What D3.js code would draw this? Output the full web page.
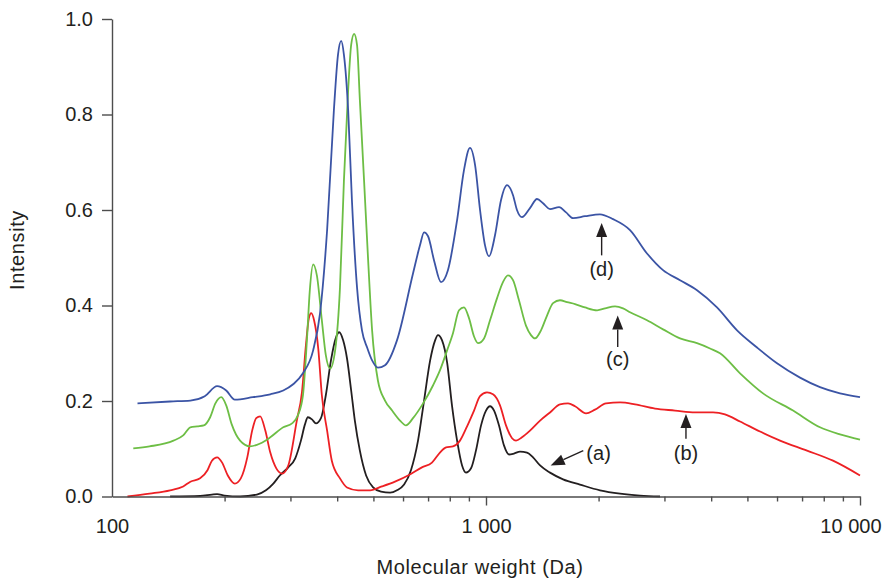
<!DOCTYPE html>
<html>
<head>
<meta charset="utf-8">
<script src="https://cdn.jsdelivr.net/npm/d3@7"></script>
<style>
  body { margin: 0; background: #fff; }
  text { font-family: "Liberation Sans", Arial, sans-serif; fill: #231f20; }
</style>
</head>
<body>
<div id="chart"></div>
<script>
//Chart size and plot box
var width = 883;
var height = 579;
var plotLeft = 112, plotRight = 860, plotTop = 19, plotBottom = 496.5;

//Series values: molecular weight (Da) and intensity
var blueMw = [117, 143, 162, 177, 191, 202, 213, 238, 265, 287, 305, 324, 345, 360, 376, 392, 402, 410, 417, 428, 438, 452, 466, 481, 496, 514, 537, 578, 638, 666, 683, 700, 726, 758, 791, 837, 873, 906, 935, 964, 994, 1019, 1057, 1097, 1138, 1181, 1210, 1248, 1311, 1369, 1421, 1483, 1568, 1637, 1709, 1839, 2017, 2186, 2427, 2695, 2974, 3302, 3666, 4146, 4691, 5305, 6000, 6912, 7816, 8841, 10000];
var blueInt = [0.195, 0.199, 0.201, 0.21, 0.231, 0.222, 0.203, 0.208, 0.214, 0.222, 0.235, 0.258, 0.306, 0.384, 0.558, 0.809, 0.925, 0.954, 0.925, 0.809, 0.621, 0.438, 0.348, 0.312, 0.285, 0.27, 0.275, 0.327, 0.467, 0.526, 0.553, 0.545, 0.495, 0.449, 0.474, 0.579, 0.683, 0.73, 0.694, 0.6, 0.526, 0.503, 0.547, 0.621, 0.652, 0.631, 0.6, 0.585, 0.604, 0.623, 0.614, 0.602, 0.606, 0.595, 0.583, 0.587, 0.591, 0.581, 0.558, 0.509, 0.474, 0.453, 0.432, 0.396, 0.348, 0.312, 0.279, 0.249, 0.229, 0.216, 0.208];

var greenMw = [114, 126, 146, 155, 162, 169, 176, 183, 189, 196, 202, 209, 220, 234, 249, 265, 287, 303, 314, 324, 332, 338, 345, 353, 364, 373, 383, 395, 407, 417, 428, 436, 444, 452, 460, 472, 484, 496, 514, 537, 561, 589, 611, 638, 679, 722, 753, 787, 816, 847, 873, 901, 929, 952, 988, 1025, 1070, 1110, 1145, 1181, 1225, 1279, 1319, 1352, 1403, 1456, 1511, 1577, 1647, 1730, 1839, 1982, 2082, 2213, 2325, 2427, 2695, 2974, 3302, 3666, 3972, 4224, 4778, 5504, 6623, 7816, 8841, 10000];
var greenInt = [0.101, 0.105, 0.117, 0.128, 0.145, 0.147, 0.149, 0.166, 0.195, 0.208, 0.191, 0.151, 0.117, 0.105, 0.111, 0.124, 0.145, 0.153, 0.17, 0.212, 0.327, 0.432, 0.486, 0.463, 0.369, 0.296, 0.268, 0.306, 0.438, 0.662, 0.851, 0.946, 0.969, 0.946, 0.83, 0.662, 0.495, 0.348, 0.243, 0.201, 0.18, 0.159, 0.149, 0.164, 0.195, 0.233, 0.264, 0.306, 0.342, 0.39, 0.396, 0.373, 0.335, 0.321, 0.331, 0.369, 0.415, 0.449, 0.463, 0.453, 0.411, 0.358, 0.338, 0.331, 0.348, 0.379, 0.405, 0.411, 0.407, 0.403, 0.396, 0.39, 0.394, 0.398, 0.394, 0.386, 0.369, 0.35, 0.331, 0.321, 0.31, 0.3, 0.258, 0.216, 0.18, 0.145, 0.13, 0.119];

var redMw = [110, 126, 143, 155, 162, 172, 180, 185, 191, 197, 204, 213, 221, 230, 237, 243, 249, 257, 265, 275, 285, 296, 312, 322, 330, 336, 341, 347, 356, 364, 376, 387, 407, 425, 455, 490, 527, 571, 626, 674, 717, 753, 782, 816, 852, 890, 929, 964, 1006, 1044, 1090, 1131, 1174, 1203, 1248, 1311, 1395, 1483, 1577, 1657, 1730, 1851, 1956, 2094, 2283, 2503, 2831, 3202, 3621, 4046, 4355, 4778, 5404, 6112, 7217, 8469, 10000];
var redInt = [0.0, 0.006, 0.013, 0.021, 0.031, 0.038, 0.055, 0.075, 0.082, 0.071, 0.044, 0.027, 0.038, 0.082, 0.138, 0.164, 0.168, 0.138, 0.092, 0.059, 0.048, 0.065, 0.159, 0.218, 0.317, 0.373, 0.384, 0.369, 0.31, 0.212, 0.138, 0.075, 0.038, 0.019, 0.013, 0.013, 0.021, 0.031, 0.046, 0.061, 0.071, 0.092, 0.103, 0.105, 0.117, 0.147, 0.18, 0.21, 0.218, 0.214, 0.191, 0.149, 0.122, 0.117, 0.124, 0.138, 0.159, 0.176, 0.193, 0.195, 0.189, 0.174, 0.182, 0.195, 0.197, 0.193, 0.184, 0.18, 0.176, 0.176, 0.172, 0.157, 0.136, 0.117, 0.096, 0.075, 0.044];

var blackMw = [143, 172, 185, 191, 200, 220, 244, 258, 270, 281, 296, 309, 320, 328, 334, 343, 351, 362, 373, 385, 397, 405, 415, 425, 436, 446, 460, 478, 499, 524, 554, 578, 604, 630, 658, 683, 709, 731, 744, 763, 787, 811, 837, 863, 884, 912, 940, 970, 1000, 1025, 1051, 1083, 1117, 1152, 1188, 1233, 1287, 1336, 1395, 1483, 1607, 1783, 2017, 2283, 2581, 2919];
var blackInt = [0.0, 0.001, 0.004, 0.005, 0.002, 0.0, 0.004, 0.013, 0.027, 0.044, 0.061, 0.08, 0.117, 0.151, 0.166, 0.161, 0.153, 0.164, 0.212, 0.285, 0.333, 0.344, 0.327, 0.289, 0.222, 0.159, 0.096, 0.044, 0.019, 0.01, 0.008, 0.013, 0.025, 0.055, 0.117, 0.201, 0.285, 0.327, 0.338, 0.327, 0.281, 0.191, 0.117, 0.065, 0.05, 0.059, 0.096, 0.149, 0.18, 0.189, 0.18, 0.149, 0.107, 0.088, 0.09, 0.094, 0.092, 0.082, 0.065, 0.05, 0.036, 0.025, 0.013, 0.006, 0.002, 0.0];

//Tick values
var yTicks = [0, 0.2, 0.4, 0.6, 0.8, 1.0];
var xMajor = [100, 1000, 10000];
var xMinor = [200, 300, 400, 500, 600, 700, 800, 900, 2000, 3000, 4000, 5000, 6000, 7000, 8000, 9000];

//Annotation labels: tip and tail of each arrow, plus where the label sits
var noteLabels = ["(a)", "(b)", "(c)", "(d)"];
var noteTipMw = [1489, 3425, 2250, 2038];
var noteTipInt = [0.065, 0.173, 0.379, 0.573];
var noteTailMw = [1820, 3425, 2250, 2038];
var noteTailInt = [0.096, 0.121, 0.313, 0.505];
var noteTextMw = [2000, 3425, 2250, 2038];
var noteTextInt = [0.092, 0.092, 0.289, 0.477];

var series = [
  { mw: blackMw, val: blackInt, color: "#231f20" },
  { mw: redMw, val: redInt, color: "#ed2024" },
  { mw: greenMw, val: greenInt, color: "#6dbe45" },
  { mw: blueMw, val: blueInt, color: "#3b54a5" }
];

var svg = d3.select("#chart").append("svg")
  .attr("width", width)
  .attr("height", height);

var x = d3.scaleLog().domain([100, 10000]).range([plotLeft, plotRight]);
var y = d3.scaleLinear().domain([0, 1]).range([plotBottom, plotTop]);

//Curves
var line = d3.line()
  .x(function(d) { return x(d[0]); })
  .y(function(d) { return y(d[1]); })
  .curve(d3.curveMonotoneX);

series.forEach(function(s) {
  var pts = s.mw.map(function(m, i) { return [m, s.val[i]]; });
  svg.append("path")
    .attr("d", line(pts))
    .attr("fill", "none")
    .attr("stroke", s.color)
    .attr("stroke-width", 1.8)
    .attr("stroke-linejoin", "round");
});

//Axes
var fmt = d3.formatLocale({ decimal: ".", thousands: " ", grouping: [3], currency: ["", ""] }).format(",");

svg.append("g")
  .attr("transform", "translate(" + plotLeft + ",0)")
  .call(d3.axisLeft(y).tickValues(yTicks).tickSize(10).tickSizeOuter(0).tickPadding(9).tickFormat(d3.format(".1f")));

var xMinorAxis = svg.append("g")
  .attr("transform", "translate(0," + plotBottom + ")")
  .call(d3.axisBottom(x).tickValues(xMinor).tickSize(5).tickSizeOuter(0).tickFormat(""));
xMinorAxis.select(".domain").remove();

var xAxis = svg.append("g")
  .attr("transform", "translate(0," + plotBottom + ")")
  .call(d3.axisBottom(x).tickValues(xMajor).tickSize(9).tickSizeOuter(0).tickPadding(13).tickFormat(fmt));
xAxis.selectAll(".tick").filter(function(d) { return d === 100; }).select("line").remove();
//last label is pulled in so it stays inside the picture
xAxis.selectAll(".tick").filter(function(d) { return d === 10000; }).select("text")
  .attr("text-anchor", "end")
  .attr("x", 21);

svg.selectAll(".domain, .tick line")
  .attr("stroke", "#4d4d4d")
  .attr("stroke-width", 1.4);
svg.selectAll(".tick text")
  .attr("font-size", 20)
  .attr("fill", "#231f20")
  .style("font-family", "'Liberation Sans', Arial, sans-serif");

//Axis titles
svg.append("text")
  .attr("x", 480)
  .attr("y", 574)
  .attr("text-anchor", "middle")
  .attr("font-size", 20)
  .attr("letter-spacing", 0.6)
  .text("Molecular weight (Da)");

svg.append("text")
  .attr("transform", "translate(24,250)rotate(-90)")
  .attr("text-anchor", "middle")
  .attr("font-size", 20)
  .attr("letter-spacing", 0.6)
  .text("Intensity");

//Arrows and labels
noteLabels.forEach(function(lab, i) {
  var tx = x(noteTipMw[i]), ty = y(noteTipInt[i]);
  var bx = x(noteTailMw[i]), by = y(noteTailInt[i]);
  var dx = tx - bx, dy = ty - by;
  var len = Math.sqrt(dx * dx + dy * dy);
  var ux = dx / len, uy = dy / len;
  var head = 14, half = 5.5;
  var hx = tx - ux * head, hy = ty - uy * head;

  svg.append("line")
    .attr("x1", bx).attr("y1", by)
    .attr("x2", hx).attr("y2", hy)
    .attr("stroke", "#231f20")
    .attr("stroke-width", 1.4);

  svg.append("polygon")
    .attr("points", [
      [tx, ty],
      [hx - uy * half, hy + ux * half],
      [hx + uy * half, hy - ux * half]
    ].map(function(p) { return p.join(","); }).join(" "))
    .attr("fill", "#231f20");

  svg.append("text")
    .attr("x", x(noteTextMw[i]))
    .attr("y", y(noteTextInt[i]))
    .attr("dy", "0.36em")
    .attr("text-anchor", "middle")
    .attr("font-size", 20)
    .text(lab);
});
</script>
</body>
</html>
